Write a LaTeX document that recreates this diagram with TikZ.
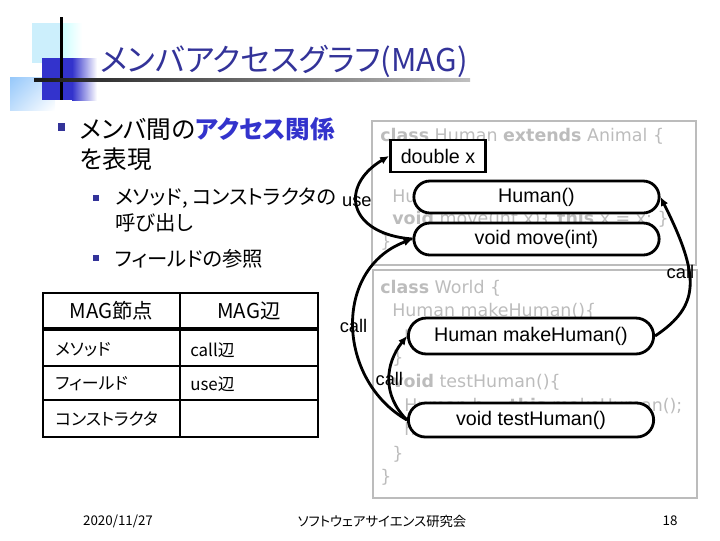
\documentclass[tikz,border=0pt]{standalone}
\usepackage{fontspec}
\usepackage{xcolor}
\usepackage{tikz}
\usetikzlibrary{arrows.meta, positioning, shapes.misc, shadings}
\setmainfont{Noto Sans CJK JP}[RawFeature=+palt]
\newfontfamily\codefont{DejaVu Sans}
\newfontfamily\nodefont{Liberation Sans}
\newcommand{\fsz}[1]{\fontsize{#1}{#1}\selectfont}
\definecolor{navy}{RGB}{51,51,153}
\definecolor{accent}{RGB}{51,51,204}
\definecolor{codegray}{RGB}{188,188,188}
\definecolor{skyb}{RGB}{150,200,250}

\begin{document}
\begin{tikzpicture}[x=0.025cm, y=-0.025cm,
  member/.style={draw, line width=2pt, fill=white, inner sep=0pt, font=\nodefont\fsz{14}},
  field/.style={member, rectangle, minimum width=2.38cm, minimum height=0.8cm},
  method/.style={member, rounded rectangle, minimum width=6.13cm, minimum height=#1},
  method/.default=0.8cm,
  edge/.style={line width=2pt, -{Latex[length=2.2mm, width=2mm]}},
  elabel/.style={font=\nodefont\fsz{13}, inner sep=0pt},
  code/.style={anchor=base west, inner sep=0pt, text=codegray, font=\codefont\fsz{12.4}},
  jtext/.style={anchor=base west, inner sep=0pt},
  cell/.style={inner sep=0pt, font=\fsz{12}},
]
\useasboundingbox (0,0) rectangle (720,540);

% title decoration
\fill[cyan!20] (32,23) rectangle (62,63);
\shade[left color=cyan!20, right color=white] (62,23) rectangle (82,63);
\shade[upper left=skyb, upper right=skyb!45, lower left=skyb!60, lower right=white] (10,77) rectangle (55,110);
\fill[accent] (42,58) rectangle (72,100);
\shade[left color=accent, right color=white] (72,58) rectangle (97,100);
\fill (60,17) rectangle (62.5,100);
\shade[left color=black!90, right color=black!25] (34,78.5) rectangle (470,81.5);
\node[jtext, text=navy, font=\fsz{22.3}] (title) at (100,71) {メンバアクセスグラフ(MAG)};

% bullets
\fill[navy] (58,123) rectangle (65,131);
\node[jtext, font=\fsz{17.5}] (b1) at (80,138) {メンバ間の\textcolor{accent}{\bfseries アクセス関係}};
\node[jtext, font=\fsz{17.5}] (b1b) at (80,168) {を表現};
\fill[navy] (93,195) rectangle (99,201);
\node[jtext, font=\fsz{14.5}] (b2) at (115,204) {メソッド, コンストラクタの};
\node[jtext, font=\fsz{14.5}] (b2b) at (115,230) {呼び出し};
\fill[navy] (93,255) rectangle (99,261);
\node[jtext, font=\fsz{14.5}] (b3) at (115,266) {フィールドの参照};

% table
\draw[line width=1.2pt] (43,293) rectangle (318,437);
\draw[line width=1.2pt] (180,293) -- (180,437);
\draw[line width=2.5pt] (43,329) -- (318,329);
\draw[line width=1.2pt] (43,366) -- (318,366);
\draw[line width=1.2pt] (43,400) -- (318,400);
\node[cell, font=\fsz{14.5}] (h1) at (111.5,311) {MAG節点};
\node[cell, font=\fsz{14.5}] (h2) at (249,311) {MAG辺};
\node[cell, anchor=west] (r1a) at (55,350) {メソッド};
\node[cell, anchor=west] (r1b) at (190,350) {call辺};
\node[cell, anchor=west] (r2a) at (55,384) {フィールド};
\node[cell, anchor=west] (r2b) at (190,384) {use辺};
\node[cell, anchor=west] (r3a) at (55,419) {コンストラクタ};

% source code
\draw[codegray, line width=0.8pt] (372,121) rectangle (696,265);
\draw[codegray, line width=0.8pt] (373,270) rectangle (697,498);
\node[code] (h0) at (380,141) {\textbf{class} Human \textbf{extends} Animal \{};
\node[code] (h2c) at (392,202) {Human()\{ \}};
\node[code] (h3c) at (392,224) {\textbf{void} move(int x)\{ \textbf{this}.x = x; \}};
\node[code] (h4c) at (380,247) {\}};
\node[code] (w0) at (380,293) {\textbf{class} World \{};
\node[code] (w1) at (392,316) {Human makeHuman()\{};
\node[code] (w2) at (404,339) {\textbf{return new} Human();};
\node[code] (w3) at (392,363) {\}};
\node[code] (w4) at (392,387) {\textbf{void} testHuman()\{};
\node[code] (w5) at (404,411) {Human h = \textbf{this}.makeHuman();};
\node[code] (w6) at (404,435) {h.move(10);};
\node[code] (w7) at (392,459) {\}};
\node[code] (w8) at (380,482) {\}};

% MAG
\node[field] (dbl) at (438,156) {double x};
\node[method] (hum) at (536.5,197) {Human()};
\node[method] (move) at (536.5,239) {void move(int)};
\node[method=0.9cm] (make) at (531,336) {Human makeHuman()};
\node[method=0.85cm] (test) at (531,420) {void testHuman()};

\draw[edge] (move.west) .. controls +(-65,-5) and +(-50,30) .. node[elabel, pos=.55] {use} (dbl.west);
\draw[edge] (test.west) .. controls +(-70,-40) and +(-80,30) .. node[elabel] {call} (move.west);
\draw[edge] (test.west) .. controls +(-25,-25) and +(-22,28) .. node[elabel] {call} (make.west);
\draw[edge] (make.east) .. controls +(45,-30) and +(40,80) .. node[elabel, pos=.6, xshift=-6pt] {call} (hum.east);

% footer
\node[font=\fsz{9.5}] (date) at (118,521) {2020/11/27};
\node[font=\fsz{9.5}] (conf) at (382,521) {ソフトウェアサイエンス研究会};
\node[font=\fsz{9.5}] (page) at (670,521) {18};
\end{tikzpicture}
\end{document}
